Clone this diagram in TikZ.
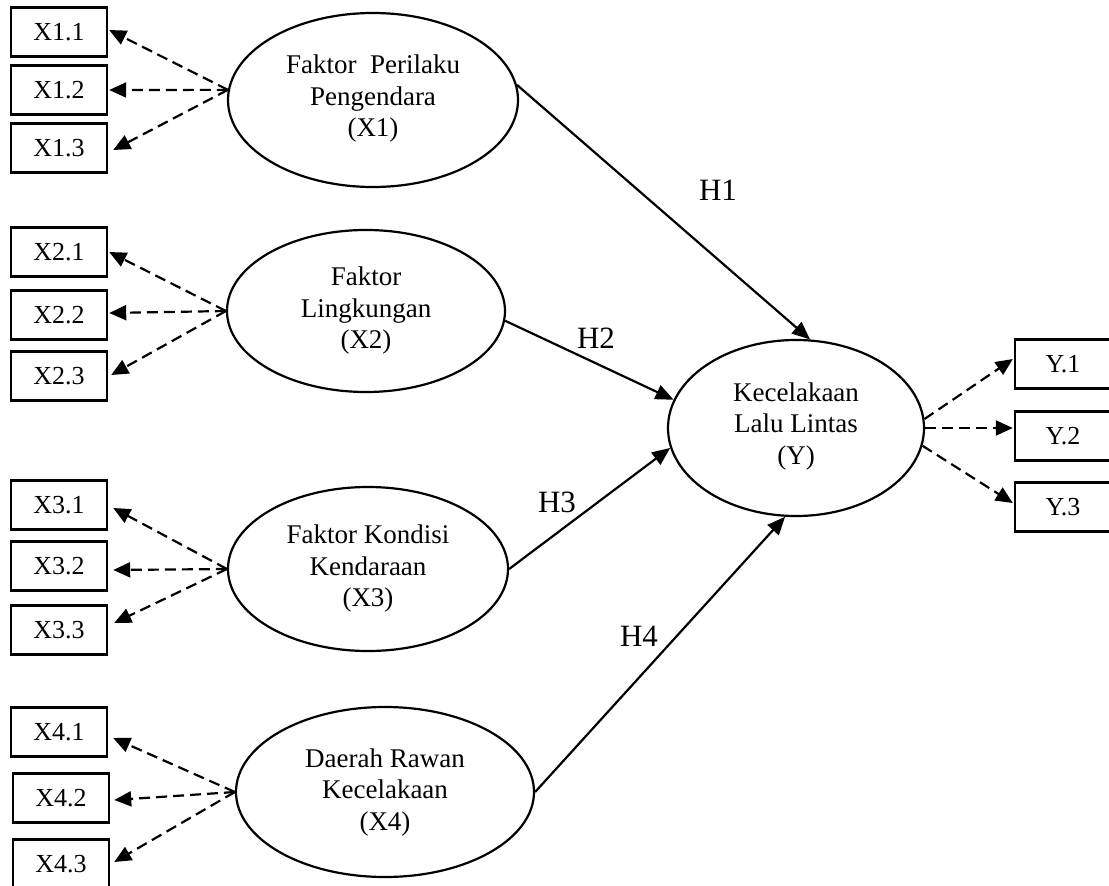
\documentclass[tikz,border=0pt]{standalone}
\usepackage{fontspec}
\setmainfont{Liberation Serif}
\usetikzlibrary{arrows.meta,shapes.geometric}
\begin{document}
\begin{tikzpicture}[x=1pt,y=-1pt,
  ind/.style={draw,line width=2.4pt,minimum width=96pt,minimum height=49pt,inner sep=0pt,font=\fontsize{26}{30}\selectfont},
  lat/.style={draw,ellipse,line width=2.2pt,inner sep=0pt,align=center,font=\fontsize{27}{31.5}\selectfont},
  hyp/.style={line width=2.2pt,-{Triangle[length=18pt,width=15pt]}},
  load/.style={line width=2.2pt,dash pattern=on 11pt off 6pt,-{Triangle[length=17pt,width=15pt]}},
  hlab/.style={font=\fontsize{31}{36}\selectfont,inner sep=0pt}
]
\useasboundingbox (0,0) rectangle (1109,886);

% latent variables
\node[lat,minimum width=290pt,minimum height=174pt] (X1) at (373,100) {Faktor\ \ Perilaku\\Pengendara\\(X1)\\[-23pt]};
\node[lat,minimum width=278pt,minimum height=162pt] (X2) at (366,311) {Faktor\\Lingkungan\\(X2)};
\node[lat,minimum width=280pt,minimum height=164pt] (X3) at (368,569) {Faktor Kondisi\\Kendaraan\\(X3)};
\node[lat,minimum width=298pt,minimum height=170pt] (X4) at (385,792) {Daerah Rawan\\Kecelakaan\\(X4)};
\node[lat,minimum width=256pt,minimum height=176pt] (Y) at (796,428) {Kecelakaan\\Lalu Lintas\\(Y)\\[-22pt]};

% indicators
\node[ind] (X11) at (59,32) {X1.1};
\node[ind] (X12) at (59,90) {X1.2};
\node[ind] (X13) at (59,148) {X1.3};
\node[ind] (X21) at (59,252) {X2.1};
\node[ind] (X22) at (59,315) {X2.2};
\node[ind] (X23) at (59,376) {X2.3};
\node[ind] (X31) at (59,505) {X3.1};
\node[ind] (X32) at (59,566) {X3.2};
\node[ind] (X33) at (59,630) {X3.3};
\node[ind] (X41) at (59,732) {X4.1};
\node[ind] (X42) at (61,798) {X4.2};
\node[ind] (X43) at (61,864) {X4.3};
\node[ind] (Y1) at (1063,364) {Y.1};
\node[ind] (Y2) at (1063,436) {Y.2};
\node[ind] (Y3) at (1063,507) {Y.3};

% loadings
\draw[load] (X1.176) -- ([xshift=1pt,yshift=2pt]X11.east);
\draw[load] (X1.176) -- ([xshift=1pt]X12.east);
\draw[load] (X1.176) -- ([xshift=5pt,yshift=-2pt]X13.east);
\draw[load] (X2.west) -- ([xshift=1pt]X21.east);
\draw[load] (X2.west) -- ([xshift=1pt,yshift=2pt]X22.east);
\draw[load] (X2.west) -- ([xshift=3pt,yshift=1pt]X23.east);
\draw[load] (X3.west) -- ([xshift=5pt,yshift=-3pt]X31.east);
\draw[load] (X3.west) -- ([xshift=5pt,yshift=-4pt]X32.east);
\draw[load] (X3.west) -- ([xshift=6pt,yshift=7pt]X33.east);
\draw[load] (X4.west) -- ([xshift=5pt,yshift=-6pt]X41.east);
\draw[load] (X4.west) -- ([xshift=4pt,yshift=-2pt]X42.east);
\draw[load] (X4.west) -- ([xshift=4pt,yshift=2pt]X43.east);
\draw[load] (Y.4) -- ([xshift=-1pt,yshift=5pt]Y1.west);
\draw[load] (Y.east) -- ([xshift=-1pt,yshift=8pt]Y2.west);
\draw[load] (Y.-8) -- ([xshift=-1pt,yshift=4pt]Y3.west);

% hypotheses
\draw[hyp] (X1.6) -- (Y.81);
\draw[hyp] (X2.-4) -- (Y.167);
\draw[hyp] (X3.east) -- (Y.189);
\draw[hyp] (X4.east) -- (Y.263);

\node[hlab] (H1) at (718,190) {H1};
\node[hlab] (H2) at (596,338) {H2};
\node[hlab] (H3) at (557,502) {H3};
\node[hlab] (H4) at (639,636) {H4};
\end{tikzpicture}
\end{document}
